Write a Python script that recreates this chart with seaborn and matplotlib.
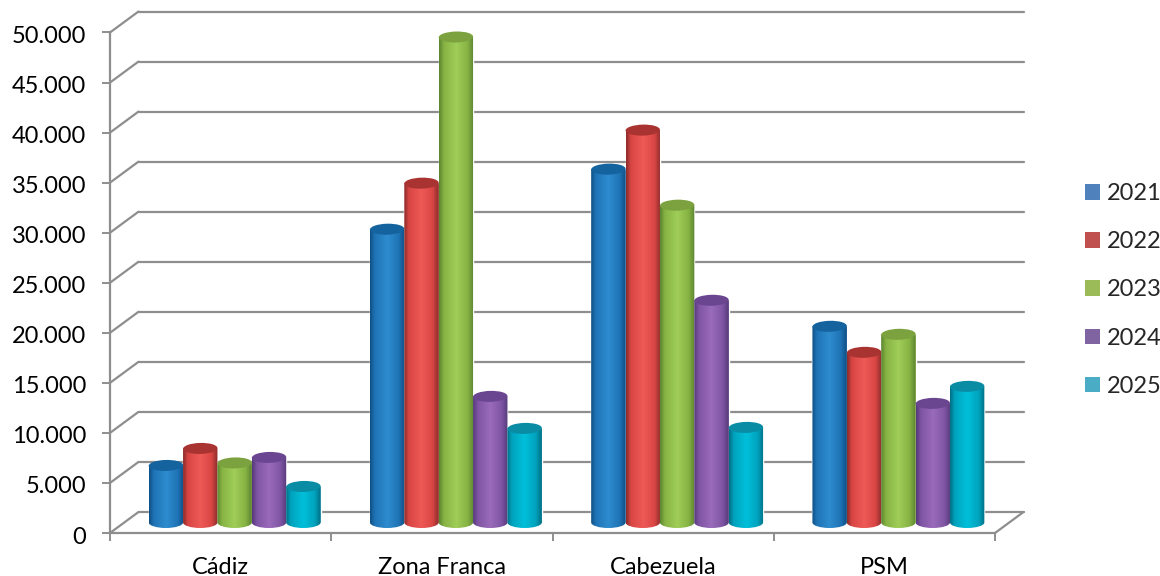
import numpy as np
import pandas as pd
import matplotlib
matplotlib.use("Agg")
import matplotlib.pyplot as plt
from matplotlib.colors import LinearSegmentedColormap
from matplotlib.patches import Ellipse, Patch
from matplotlib.path import Path
from matplotlib.transforms import Affine2D, IdentityTransform
import seaborn as sns

categories = ["Cádiz", "Zona Franca", "Cabezuela", "PSM"]
years = ["2021", "2022", "2023", "2024", "2025"]
v2021 = [5700, 29300, 35300, 19600]
v2022 = [7400, 33900, 39200, 17000]
v2023 = [5950, 48500, 31700, 18800]
v2024 = [6500, 12600, 22200, 11900]
v2025 = [3600, 9400, 9500, 13600]
yticks = [0, 5000, 10000, 15000, 20000, 25000, 30000, 35000, 40000, 45000, 50000]
ytick_labels = ["0", "5.000", "10.000", "15.000", "20.000", "25.000", "30.000", "35.000", "40.000", "45.000", "50.000"]

legend_colors = ["#4F81BD", "#C0504D", "#9BBB59", "#8064A2", "#4BACC6"]
dark = ["#0F4F85", "#8A2B2A", "#5C8430", "#55397A", "#006F85"]
mid = ["#1F74B5", "#D84644", "#86B344", "#7F55A3", "#00A3BE"]
light = ["#2E8CCF", "#EE5A56", "#A0CE58", "#9A6BBB", "#00C0DA"]
cap = ["#14639E", "#A83331", "#7BA23F", "#6A4690", "#0A8CA5"]
GRID = "#8E8E8E"

sns.set_theme(style="white")
plt.rcParams["font.family"] = ["Lato", "DejaVu Sans"]
FS = 17

df = pd.DataFrame({"cat": categories * 5,
                   "year": sum([[y] * 4 for y in years], []),
                   "value": v2021 + v2022 + v2023 + v2024 + v2025})

W, H = 1160, 576
fig = plt.figure(figsize=(W / 100, H / 100), dpi=100, facecolor="white")
ax = fig.add_axes([110 / W, (H - 533) / H, (995 - 110) / W, (533 - 32.5) / H])
sns.barplot(data=df, x="cat", y="value", hue="year", order=categories, hue_order=years,
            palette=legend_colors, width=0.777, gap=0, errorbar=None, ax=ax, legend=False,
            saturation=1, zorder=3)
ax.set_xlim(-0.5, 3.5)
ax.set_ylim(0, 50000)
ax.set_xlabel("")
ax.set_ylabel("")
ax.patch.set_alpha(0)

DX, DY = 14.0, 10.5   # floor centre offset of the cylinders
BX, BY = 28.5, 21     # back wall offset

# axes furniture
for s in ["top", "right"]:
    ax.spines[s].set_visible(False)
for s in ["left", "bottom"]:
    ax.spines[s].set_color(GRID)
    ax.spines[s].set_linewidth(1.6)
ax.set_yticks(yticks, ytick_labels, fontsize=FS, color="black", va="center_baseline")
ax.tick_params(axis="y", length=6, width=1.4, color=GRID, pad=11, left=True)
for lab in ax.get_yticklabels():
    lab.set_transform(lab.get_transform() + Affine2D().translate(0, -2))
ax.set_xticks(range(4), categories, fontsize=FS, color="black")
ax.tick_params(axis="x", which="major", length=0, pad=17, bottom=False)
ax.set_xticks([-0.5, 0.5, 1.5, 2.5, 3.5], minor=True)
ax.tick_params(axis="x", which="minor", length=6, width=1.4, color=GRID, bottom=True)

ident = IdentityTransform()
to_px = ax.transData.transform
for t in yticks:
    x0, y0 = to_px((-0.5, t))
    x1, _ = to_px((3.5, t))
    ax.plot([x0, x0 + BX], [y0, y0 + BY], color=GRID, lw=1.6, transform=ident, clip_on=False, zorder=1)
    ax.plot([x0 + BX, x1 + BX], [y0 + BY, y0 + BY], color=GRID, lw=1.6, transform=ident, clip_on=False, zorder=1)
x1, y1 = to_px((3.5, 0))
ax.plot([x1, x1 + BX], [y1, y1 + BY], color=GRID, lw=1.6, transform=ident, clip_on=False, zorder=1)

# cylinders: every seaborn bar is shifted onto the floor and shaded
ERY = 5.5
k = 0.5523
shift = Affine2D().translate(DX, DY)
for c_i, cont in enumerate(ax.containers):
    cmap = LinearSegmentedColormap.from_list(
        "c", [(0, dark[c_i]), (0.14, mid[c_i]), (0.5, light[c_i]), (0.82, mid[c_i]), (1, dark[c_i])])
    grad = np.linspace(0, 1, 128)[None, :]
    for bar in cont:
        bar.set_transform(ax.transData + shift)
        bar.set_clip_on(False)
        xa, ya = (ax.transData + shift).transform((bar.get_x(), 0))
        xb, yb = (ax.transData + shift).transform((bar.get_x() + bar.get_width(), bar.get_height()))
        cx, rx = (xa + xb) / 2, (xb - xa) / 2
        verts = [(xa, yb), (xa, ya), (xa, ya - k * ERY), (cx - k * rx, ya - ERY), (cx, ya - ERY),
                 (cx + k * rx, ya - ERY), (xb, ya - k * ERY), (xb, ya), (xb, yb), (xa, yb)]
        codes = [Path.MOVETO, Path.LINETO, Path.CURVE4, Path.CURVE4, Path.CURVE4,
                 Path.CURVE4, Path.CURVE4, Path.CURVE4, Path.LINETO, Path.CLOSEPOLY]
        im = ax.imshow(grad, cmap=cmap, extent=(xa, xb, ya - ERY - 1, yb + 1), aspect="auto",
                       transform=ident, zorder=4 + c_i * 0.1, interpolation="bilinear")
        im.set_clip_path(Path(verts, codes), ident)
        ax.add_patch(Ellipse((cx, yb), 2 * rx, 2 * ERY, angle=1.5, facecolor=cap[c_i], edgecolor="none",
                             transform=ident, clip_on=False, zorder=4.05 + c_i * 0.1))
ax.set_xlim(-0.5, 3.5)
ax.set_ylim(0, 50000)

handles = [Patch(facecolor=c, edgecolor="none") for c in legend_colors]
fig.legend(handles, years, loc="center left", bbox_to_anchor=(1085 / W, (H - 290) / H),
           frameon=False, fontsize=FS, handlelength=0.64, handleheight=0.64, handletextpad=0.3,
           labelspacing=1.15, borderaxespad=0, borderpad=0)

fig.savefig("out.png", dpi=100)
